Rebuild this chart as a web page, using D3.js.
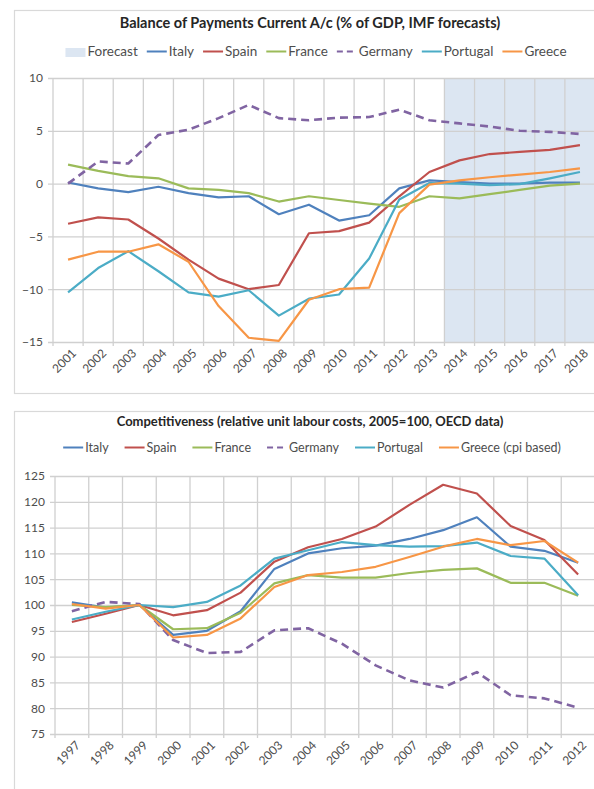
<!DOCTYPE html>
<html>
<head>
<meta charset="utf-8">
<script src="https://cdn.jsdelivr.net/npm/d3@7"></script>
<style>
  html, body { margin: 0; padding: 0; background: #fff; }
  svg { display: block; }
  text { font-family: Lato, "Open Sans", sans-serif; }
</style>
</head>
<body>
<svg id="chart" width="594" height="789"></svg>
<script>
// ---------- Data: chart 1 (Balance of payments current account, % of GDP) ----------
const years1 = ["2001","2002","2003","2004","2005","2006","2007","2008","2009","2010","2011","2012","2013","2014","2015","2016","2017","2018"];
const forecastYears = ["2014","2015","2016","2017","2018"];
const italy1    = [0.1, -0.45, -0.8, -0.3, -0.9, -1.3, -1.2, -2.9, -2.0, -3.5, -3.0, -0.45, 0.3, 0.15, 0.0, 0.0, 0.1, 0.1];
const spain1    = [-3.8, -3.2, -3.4, -5.2, -7.2, -9.0, -10.0, -9.6, -4.7, -4.5, -3.7, -1.2, 1.1, 2.2, 2.8, 3.0, 3.2, 3.65];
const france1   = [1.8, 1.2, 0.7, 0.5, -0.45, -0.6, -0.9, -1.7, -1.2, -1.55, -1.9, -2.2, -1.2, -1.4, -1.0, -0.6, -0.2, 0.0];
const germany1  = [0.0, 2.1, 1.9, 4.6, 5.1, 6.2, 7.45, 6.2, 6.0, 6.25, 6.3, 7.0, 6.0, 5.7, 5.4, 5.0, 4.9, 4.7];
const portugal1 = [-10.3, -8.0, -6.4, -8.3, -10.3, -10.7, -10.1, -12.5, -10.9, -10.5, -7.1, -1.5, 0.05, 0.0, -0.15, -0.05, 0.5, 1.1];
const greece1   = [-7.2, -6.45, -6.45, -5.75, -7.4, -11.6, -14.6, -14.9, -11.0, -10.0, -9.85, -2.8, -0.1, 0.3, 0.6, 0.85, 1.1, 1.45];
const yTicks1 = [-15, -10, -5, 0, 5, 10];

// ---------- Data: chart 2 (Competitiveness, relative ULC, 2005=100) ----------
const years2 = ["1997","1998","1999","2000","2001","2002","2003","2004","2005","2006","2007","2008","2009","2010","2011","2012"];
const italy2    = [100.5, 99.5, 100, 94.2, 95.0, 98.8, 107.0, 110.0, 111.0, 111.5, 112.8, 114.5, 117.0, 111.3, 110.5, 108.2];
const spain2    = [96.7, 98.3, 100, 98.0, 99.0, 102.4, 108.4, 111.2, 112.8, 115.2, 119.4, 123.3, 121.6, 115.3, 112.6, 105.9];
const france2   = [100.0, 99.6, 100, 95.3, 95.5, 98.5, 104.2, 105.8, 105.3, 105.3, 106.2, 106.8, 107.1, 104.3, 104.3, 101.8];
const germany2  = [98.8, 100.6, 100.2, 93.2, 90.7, 90.9, 95.1, 95.5, 92.5, 88.3, 85.4, 84.0, 87.0, 82.5, 81.9, 80.1];
const portugal2 = [97.2, 98.7, 100, 99.6, 100.6, 103.8, 109.0, 110.6, 112.2, 111.6, 111.3, 111.4, 112.1, 109.5, 109.0, 101.9];
const greece2   = [100.2, 99.3, 100, 93.7, 94.2, 97.4, 103.5, 105.8, 106.4, 107.4, 109.3, 111.3, 112.8, 111.6, 112.4, 108.2];
const yTicks2 = [75, 80, 85, 90, 95, 100, 105, 110, 115, 120, 125];

// ---------- Styles ----------
const colors = { Italy: "#4F81BD", Spain: "#C0504D", France: "#9BBB59", Germany: "#8064A2", Portugal: "#4BACC6", Greece: "#F79646" };
const gridColor = "#D0D0D0";
const textColor = "#4D4D4D";

const svg = d3.select("#chart");

function drawChart(cfg) {
  const g = svg.append("g");
  // frame
  g.append("rect").attr("x", cfg.frame[0] + 0.5).attr("y", cfg.frame[1] + 0.5)
    .attr("width", cfg.frame[2]).attr("height", cfg.frame[3])
    .attr("fill", "#fff").attr("stroke", "#D9D9D9").attr("stroke-width", 1.2);

  const x = d3.scaleBand().domain(cfg.cats).range([cfg.left, cfg.right]).padding(0);
  const y = d3.scaleLinear().domain(cfg.yDomain).range([cfg.bottom, cfg.top]);
  const cx = c => x(c) + x.bandwidth() / 2;

  // forecast shading
  if (cfg.forecast) {
    g.append("rect").attr("x", x(cfg.forecast[0])).attr("y", cfg.top)
      .attr("width", cfg.right - x(cfg.forecast[0])).attr("height", cfg.bottom - cfg.top)
      .attr("fill", "#DCE6F2");
  }

  // horizontal gridlines + y labels via axis
  const yAxis = d3.axisLeft(y).tickValues(cfg.yTicks).tickSize(-(cfg.right - cfg.left)).tickPadding(10).tickFormat(d3.format("d"));
  const ya = g.append("g").attr("transform", `translate(${cfg.left},0)`).call(yAxis);
  ya.select(".domain").remove();
  ya.selectAll("line").attr("stroke", gridColor).attr("stroke-width", 1.3).attr("x1", -5);
  ya.selectAll("text").attr("fill", textColor).style("font-size", "12px").style("font-family", "Lato, sans-serif");

  // vertical gridlines at band boundaries
  const bounds = cfg.cats.map(c => x(c)).concat([cfg.right]);
  g.append("g").selectAll("line").data(bounds).join("line")
    .attr("x1", d => d).attr("x2", d => d).attr("y1", cfg.top).attr("y2", cfg.bottom + 4)
    .attr("stroke", gridColor).attr("stroke-width", 1.3);

  // x labels
  g.append("g").selectAll("text").data(cfg.cats).join("text")
    .attr("transform", c => `translate(${cx(c) + 6},${cfg.bottom + 9}) rotate(-45)`)
    .attr("text-anchor", "end").attr("dy", "0.35em")
    .attr("fill", textColor).style("font-size", "12px")
    .text(c => c);

  // lines
  const line = d3.line().x((d, i) => cx(cfg.cats[i])).y(d => y(d));
  cfg.series.forEach(s => {
    g.append("path").datum(s.values).attr("d", line)
      .attr("fill", "none").attr("stroke", colors[s.name])
      .attr("stroke-width", s.name === "Germany" ? 2.6 : 2.2)
      .attr("stroke-linejoin", "round")
      .attr("stroke-dasharray", s.name === "Germany" ? "8,5" : null);
  });

  // title
  g.append("text").attr("x", cfg.titleX).attr("y", cfg.titleY).attr("text-anchor", "middle")
    .attr("fill", "#262626").style("font-size", cfg.titleSize).style("font-weight", "bold")
    .text(cfg.title);

  // legend
  const lg = g.append("g");
  let xpos = 0;
  cfg.legend.forEach(it => {
    const ig = lg.append("g").attr("transform", `translate(${xpos},0)`);
    if (it.type === "rect") {
      ig.append("rect").attr("x", 0).attr("y", -8).attr("width", 20).attr("height", 9).attr("fill", "#DCE6F2");
    } else {
      ig.append("line").attr("x1", 0).attr("x2", 20).attr("y1", -4.5).attr("y2", -4.5)
        .attr("stroke", colors[it.key]).attr("stroke-width", 2)
        .attr("stroke-dasharray", it.key === "Germany" ? "6,4" : null);
    }
    const t = ig.append("text").attr("x", 22).attr("y", 0).attr("fill", textColor)
      .style("font-size", cfg.legendSize).text(it.label);
    const w = 22 + t.node().getComputedTextLength();
    xpos += w + cfg.legendGap;
  });
  const total = xpos - cfg.legendGap;
  lg.attr("transform", `translate(${cfg.legendCenter - total / 2},${cfg.legendY})`);
}

drawChart({
  frame: [14, 10, 600, 383],
  cats: years1, yDomain: [-15, 10], yTicks: yTicks1,
  left: 53, right: 595, top: 78, bottom: 342,
  forecast: forecastYears,
  title: "Balance of Payments Current A/c (% of GDP, IMF forecasts)",
  titleX: 310, titleY: 28, titleSize: "14.5px",
  legendY: 56, legendCenter: 316, legendSize: "13.5px", legendGap: 9,
  legend: [
    { type: "rect", label: "Forecast" },
    { key: "Italy", label: "Italy" },
    { key: "Spain", label: "Spain" },
    { key: "France", label: "France" },
    { key: "Germany", label: "Germany" },
    { key: "Portugal", label: "Portugal" },
    { key: "Greece", label: "Greece" }
  ],
  series: [
    { name: "Italy", values: italy1 },
    { name: "Spain", values: spain1 },
    { name: "France", values: france1 },
    { name: "Germany", values: germany1 },
    { name: "Portugal", values: portugal1 },
    { name: "Greece", values: greece1 }
  ]
});

drawChart({
  frame: [14, 411, 600, 400],
  cats: years2, yDomain: [75, 125], yTicks: yTicks2,
  left: 55, right: 595, top: 476, bottom: 734,
  forecast: null,
  title: "Competitiveness (relative unit labour costs, 2005=100, OECD data)",
  titleX: 310, titleY: 426, titleSize: "13px",
  legendY: 452, legendCenter: 312, legendSize: "12.5px", legendGap: 16,
  legend: [
    { key: "Italy", label: "Italy" },
    { key: "Spain", label: "Spain" },
    { key: "France", label: "France" },
    { key: "Germany", label: "Germany" },
    { key: "Portugal", label: "Portugal" },
    { key: "Greece", label: "Greece (cpi based)" }
  ],
  series: [
    { name: "Italy", values: italy2 },
    { name: "Spain", values: spain2 },
    { name: "France", values: france2 },
    { name: "Germany", values: germany2 },
    { name: "Portugal", values: portugal2 },
    { name: "Greece", values: greece2 }
  ]
});
</script>
</body>
</html>
